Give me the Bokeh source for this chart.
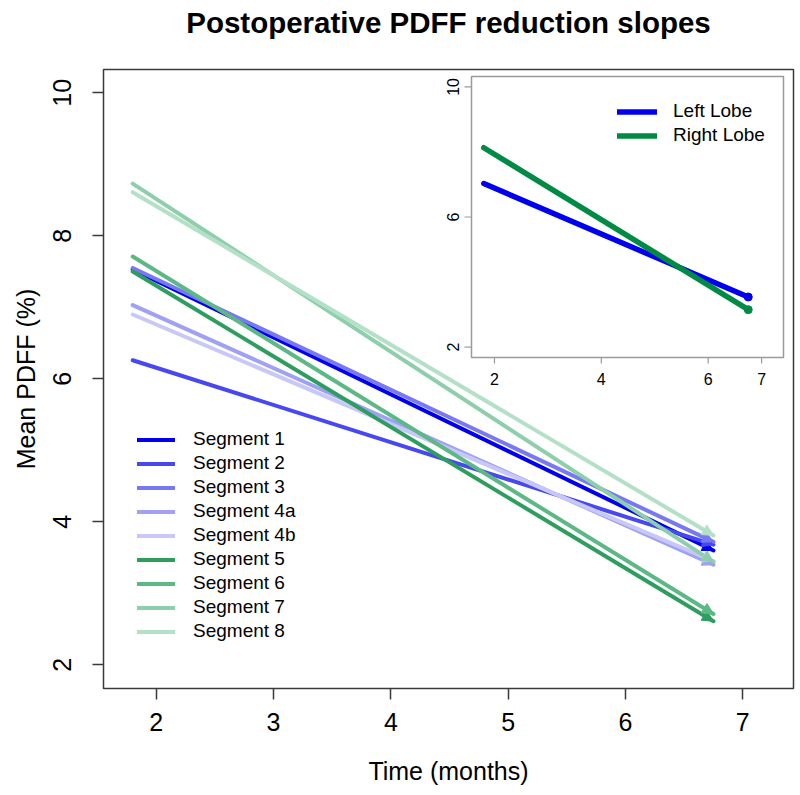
import math
from bokeh.plotting import figure
from bokeh.models import (Range1d, Arrow, NormalHead, Legend, LegendItem,
                          FixedTicker, ColumnDataSource, Title)
from bokeh.core.properties import value
from bokeh.embed import file_html
from bokeh.resources import INLINE

# ---------------- data ----------------
segments = ["Segment 1", "Segment 2", "Segment 3", "Segment 4a", "Segment 4b",
            "Segment 5", "Segment 6", "Segment 7", "Segment 8"]
time_points = [1.8, 6.75]
pdff_start = [7.53, 6.26, 7.55, 7.03, 6.90, 7.50, 7.71, 8.73, 8.61]
pdff_end = [3.60, 3.68, 3.72, 3.40, 3.45, 2.61, 2.71, 3.44, 3.81]
seg_colors = ["#0000ee", "#4848f0", "#7878f2", "#a0a0f5", "#c8c8f8",
              "#2e9e5e", "#5cb884", "#8ccfaa", "#b4e0c8"]

lobes = ["Left Lobe", "Right Lobe"]
lobe_start = [7.03, 8.13]
lobe_end = [3.54, 3.15]
lobe_colors = ["#0000ee", "#008b45"]

main_xticks = [2, 3, 4, 5, 6, 7]
main_yticks = [2, 4, 6, 8, 10]
inset_xticks = [2, 4, 6, 7]
inset_yticks = [2, 6, 10]

main_xlim = (1.551, 7.432)
main_ylim = (1.669, 10.326)
inset_xlim = (1.57, 7.41)
inset_ylim = (1.68, 10.32)

TITLE = "Postoperative PDFF reduction slopes"
FONT = "Liberation Sans"

# ---------------- layout (page pixels) ----------------
FIG_W, FIG_H, PAGE = 796, 792, 0
FL, FR, FT, FB = 103, 793, 69, 688          # main frame
IL, IR, IT, IB = 471, 783, 76, 357          # inset frame

p = figure(width=FIG_W, height=FIG_H, output_backend="svg", toolbar_location=None,
           x_range=Range1d(*main_xlim), y_range=Range1d(*main_ylim),
           min_border_left=FL - PAGE, min_border_right=FIG_W - (FR - PAGE),
           min_border_top=FT - PAGE, min_border_bottom=FIG_H - (FB - PAGE),
           background_fill_color="white", border_fill_color="white")
p.title = None

# spacer between frame and title, then the title itself (stacked outward)
p.add_layout(Title(text=" ", text_font_size="10px", standoff=12), "above")
p.add_layout(Title(text=TITLE, align="center", vertical_align="top", standoff=8,
                   text_font=FONT, text_font_size="29.5px", text_font_style="bold",
                   text_color="#000000"), "above")

p.outline_line_color = "#3a3a3a"
p.outline_line_width = 1.5
p.xgrid.grid_line_color = None
p.ygrid.grid_line_color = None

for ax, ticks in ((p.xaxis[0], main_xticks), (p.yaxis[0], main_yticks)):
    ax.ticker = FixedTicker(ticks=ticks)
    ax.minor_tick_line_color = None
    ax.axis_line_color = None
    ax.major_tick_out = 11
    ax.major_tick_in = 0
    ax.major_tick_line_color = "#3a3a3a"
    ax.major_tick_line_width = 1.5
    ax.major_label_text_font = FONT
    ax.major_label_text_font_size = "25px"
    ax.major_label_text_color = "#000000"
    ax.axis_label_text_font = FONT
    ax.axis_label_text_font_size = "25px"
    ax.axis_label_text_font_style = "normal"
    ax.axis_label_text_color = "#000000"

p.xaxis.axis_label = "Time (months)"
p.xaxis.major_label_standoff = 13
p.xaxis.axis_label_standoff = 23
p.yaxis.axis_label = "Mean PDFF (%)"
p.yaxis.major_label_orientation = "vertical"
p.yaxis.major_label_standoff = 21
p.yaxis.axis_label_standoff = 11

# ---------------- main segments ----------------
seg_items = []
for name, s, e, c in zip(segments, pdff_start, pdff_end, seg_colors):
    r = p.line(x=time_points, y=[s, e], line_color=c, line_width=4, line_cap="round")
    src = ColumnDataSource(dict(x0=[time_points[0]], y0=[s], x1=[time_points[1]], y1=[e]))
    p.add_layout(Arrow(end=NormalHead(size=11, fill_color=c, line_color=c, line_width=1),
                       x_start="x0", y_start="y0", x_end="x1", y_end="y1",
                       source=src, line_alpha=0))
    seg_items.append(LegendItem(label=name, renderers=[r]))

main_legend = Legend(items=seg_items, location=(137 - FL, FB - 642),
                     border_line_color=None, background_fill_alpha=0,
                     label_text_font=FONT, label_text_font_size="19px",
                     label_text_color="#000000",
                     glyph_width=38, glyph_height=21, label_height=21,
                     spacing=2, padding=0, margin=0, label_standoff=18)
p.add_layout(main_legend)

# ---------------- inset (own ranges mapped onto its box) ----------------
sx = (inset_xlim[1] - inset_xlim[0]) / (IR - IL)
sy = (inset_ylim[1] - inset_ylim[0]) / (IB - IT)
p.extra_x_ranges = {"ix": Range1d(inset_xlim[0] - (IL - FL) * sx,
                                  inset_xlim[1] + (FR - IR) * sx)}
p.extra_y_ranges = {"iy": Range1d(inset_ylim[0] - (FB - IB) * sy,
                                  inset_ylim[1] + (IT - FT) * sy)}
kw = dict(x_range_name="ix", y_range_name="iy")

p.quad(left=[inset_xlim[0]], right=[inset_xlim[1]], bottom=[inset_ylim[0]],
       top=[inset_ylim[1]], fill_color="white", line_color="#9a9a9a",
       line_width=1.5, **kw)

p.ray(x=inset_xticks, y=[inset_ylim[0]] * len(inset_xticks), length=6,
      length_units="screen", angle=-math.pi / 2, line_color="#9a9a9a",
      line_width=1.2, **kw)
p.ray(x=[inset_xlim[0]] * len(inset_yticks), y=inset_yticks, length=7,
      length_units="screen", angle=math.pi, line_color="#9a9a9a",
      line_width=1.2, **kw)
p.text(x=inset_xticks, y=[inset_ylim[0]] * len(inset_xticks),
       text=[str(t) for t in inset_xticks], y_offset=15,
       text_align="center", text_baseline="top", text_font=value(FONT),
       text_font_size="16px", text_color="#000000", **kw)
p.text(x=[inset_xlim[0]] * len(inset_yticks), y=inset_yticks,
       text=[str(t) for t in inset_yticks], x_offset=-19, angle=math.pi / 2,
       text_align="center", text_baseline="alphabetic", text_font=value(FONT),
       text_font_size="16px", text_color="#000000", **kw)

lobe_items = []
for name, s, e, c in zip(lobes, lobe_start, lobe_end, lobe_colors):
    r = p.line(x=time_points, y=[s, e], line_color=c, line_width=5.5,
               line_cap="round", **kw)
    p.scatter(x=[time_points[1]], y=[e], size=8, fill_color=c, line_color=c, **kw)
    lobe_items.append(LegendItem(label=name, renderers=[r]))

inset_legend = Legend(items=lobe_items, location=(617 - FL, FB - 146),
                      border_line_color=None, background_fill_alpha=0,
                      label_text_font=FONT, label_text_font_size="19px",
                      label_text_color="#000000",
                      glyph_width=40, glyph_height=21, label_height=21,
                      spacing=2, padding=0, margin=0, label_standoff=16)
p.add_layout(inset_legend)

open("out.html", "w").write(file_html(p, INLINE))
